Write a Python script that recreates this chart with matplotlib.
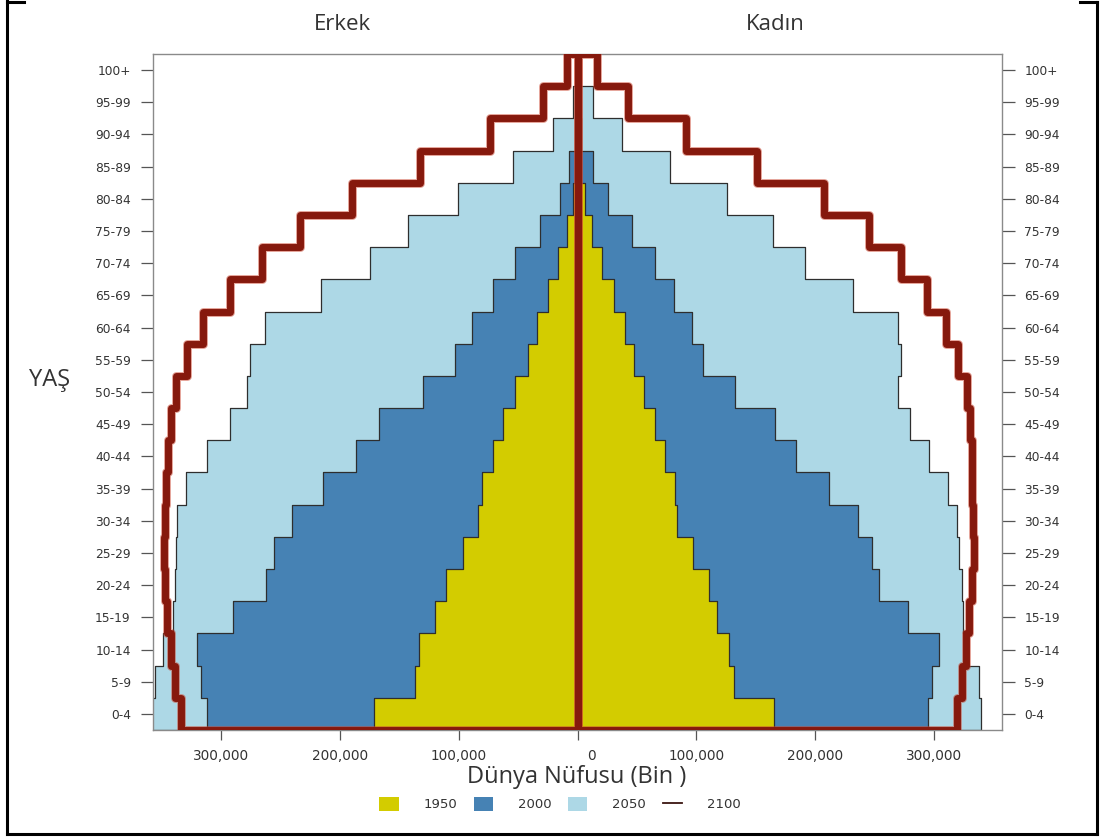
import numpy as np
import matplotlib
matplotlib.use("Agg")
import matplotlib.pyplot as plt
from matplotlib.patches import Patch
from matplotlib.lines import Line2D
from matplotlib.transforms import ScaledTranslation

# ---------------- data (thousands) ----------------
age_groups = ["0-4", "5-9", "10-14", "15-19", "20-24", "25-29", "30-34", "35-39",
              "40-44", "45-49", "50-54", "55-59", "60-64", "65-69", "70-74",
              "75-79", "80-84", "85-89", "90-94", "95-99", "100+"]

male_1950 = [171.4, 136.9, 133.3, 120.0, 110.8, 96.2, 83.5, 80.7, 71.5, 63.0, 53.0,
             41.4, 34.4, 24.6, 16.1, 8.6, 4.0, 2.0, 0.8, 0.2, 0.0]
male_2000 = [312.4, 317.5, 320.8, 289.9, 262.5, 255.7, 240.8, 214.1, 186.6, 167.0, 130.4,
             103.2, 89.2, 70.9, 52.7, 31.6, 14.7, 6.9, 2.5, 0.8, 0.2]
male_2050 = [362.0, 356.0, 348.9, 341.0, 339.0, 338.2, 337.1, 329.8, 311.8, 292.7, 278.1,
             275.9, 263.3, 216.4, 174.8, 142.5, 100.4, 54.6, 20.6, 4.0, 1.0]
male_2100 = [334.3, 339.0, 342.6, 345.6, 347.5, 348.3, 347.5, 346.7, 344.7, 342.6, 338.5,
             328.7, 315.2, 292.7, 266.1, 233.8, 190.2, 132.7, 73.7, 29.3, 8.5]

female_1950 = [165.8, 132.1, 127.6, 117.2, 110.8, 97.6, 83.5, 82.1, 73.7, 65.3, 56.3,
               47.9, 40.0, 31.0, 20.4, 12.0, 6.0, 3.0, 1.0, 0.3, 0.0]
female_2000 = [295.0, 298.9, 304.5, 278.7, 254.0, 248.4, 236.0, 211.9, 183.8, 166.4, 132.7,
               106.0, 96.7, 81.6, 65.3, 45.6, 26.0, 13.3, 3.0, 1.2, 0.3]
female_2050 = [339.9, 338.2, 327.0, 325.0, 323.6, 321.4, 319.4, 312.4, 296.1, 280.1, 269.7,
               272.5, 269.7, 232.4, 191.6, 164.4, 125.7, 77.9, 37.2, 13.3, 2.0]
female_2100 = [320.0, 323.6, 327.0, 329.8, 332.6, 333.7, 333.4, 332.6, 332.0, 330.6, 328.5,
               320.8, 310.4, 294.7, 272.2, 245.3, 208.0, 151.2, 91.4, 42.8, 16.5]

years = ["1950", "2000", "2050", "2100"]
x_ticks = [-300000, -200000, -100000, 0, 100000, 200000, 300000]
x_ticklabels = ["300,000", "200,000", "100,000", "0", "100,000", "200,000", "300,000"]

# ---------------- style ----------------
c1950 = "#d3cc00"
c2000 = "#4682b4"
c2050 = "#add8e6"
c2100 = "#86190d"
halo = "#c9452f"
edge = "#2e2e2e"
txt = "#333333"

W, H = 1103, 840
fig = plt.figure(figsize=(W / 100, H / 100), dpi=100)
fig.patch.set_facecolor("white")

def fx(px):
    return px / W

def fy(py):
    return 1 - py / H

ax = fig.add_axes([fx(153), fy(730), fx(1002) - fx(153), fy(54) - fy(730)])

n = len(age_groups)
edges = np.arange(n + 1) - 0.5
ys = np.column_stack([edges[:-1], edges[1:]]).ravel()

def step_x(vals, sign):
    return sign * np.repeat(np.asarray(vals, dtype=float) * 1000.0, 2)

for vals_m, vals_f, col in [(male_2050, female_2050, c2050),
                            (male_2000, female_2000, c2000),
                            (male_1950, female_1950, c1950)]:
    for vals, sign in [(vals_m, -1), (vals_f, 1)]:
        ax.fill_betweenx(ys, 0, step_x(vals, sign), facecolor=col,
                         edgecolor=edge, linewidth=0.9, zorder=2)

for vals, sign in [(male_2100, -1), (female_2100, 1)]:
    xs = np.concatenate([[0.0], step_x(vals, sign), [0.0, 0.0]])
    yy = np.concatenate([[edges[0]], ys, [edges[-1], edges[0]]])
    ax.plot(xs, yy, color=halo, lw=6.4, alpha=0.5, solid_joinstyle="round",
            solid_capstyle="round", zorder=3)
    ax.plot(xs, yy, color=c2100, lw=5.0, solid_joinstyle="round",
            solid_capstyle="round", zorder=4)

ax.set_xlim(-357600, 357600)
ax.set_ylim(edges[0], edges[-1])

ax.set_yticks(np.arange(n))
ax.set_yticklabels(age_groups)
ax.tick_params(axis="y", which="both", left=True, right=True, labelleft=True,
               labelright=True, length=9, width=0.9, color="#555555",
               labelsize=8.8, labelcolor=txt, pad=7)
for lbl in ax.get_yticklabels(which="both"):
    lbl.set_family("DejaVu Sans")

ax.set_xticks(x_ticks)
ax.set_xticklabels(x_ticklabels)
ax.tick_params(axis="x", length=7, width=0.9, color="#555555", labelsize=9.8,
               labelcolor=txt, pad=7)
# the "0" label is drawn slightly right of its tick in the original
for tick in ax.xaxis.get_major_ticks():
    if tick.label1.get_text() == "0":
        tick.label1.set_transform(tick.label1.get_transform() +
                                  ScaledTranslation(0.14, 0, fig.dpi_scale_trans))

for sp in ax.spines.values():
    sp.set_color("#8a8a8a")
    sp.set_linewidth(1.0)

# titles / labels
fig.text(fx(342), fy(25), "Erkek", ha="center", va="center", fontsize=16,
         color=txt, family="Open Sans")
fig.text(fx(775), fy(25), "Kadın", ha="center", va="center", fontsize=16,
         color=txt, family="Open Sans")
fig.text(fx(50), fy(380), "YAŞ", ha="center", va="center", fontsize=17,
         color=txt, family="Open Sans")
fig.text(fx(577), fy(777), "Dünya Nüfusu (Bin )", ha="center", va="center",
         fontsize=17, color=txt, family="Open Sans")

# legend
handles = [Patch(facecolor=c1950, edgecolor="none"),
           Patch(facecolor=c2000, edgecolor="none"),
           Patch(facecolor=c2050, edgecolor="none"),
           Line2D([], [], color="#3a1510", lw=1.3)]
fig.legend(handles, years, loc="center", bbox_to_anchor=(fx(560), fy(804)),
           ncol=4, frameon=False, fontsize=9.5, handlelength=1.45,
           handleheight=1.3, handletextpad=1.9, columnspacing=1.25,
           labelcolor=txt)

# outer black frame of the original screenshot
frame_lines = [((7, 7), (0, 834)), ((7, 1097), (834, 834)), ((1097, 1097), (2, 834)),
               ((7, 24), (1.5, 1.5)), ((1080, 1097), (2, 2))]
for xs_, ys_ in frame_lines:
    fig.add_artist(Line2D([fx(v) for v in xs_], [fy(v) for v in ys_],
                          transform=fig.transFigure, color="black", lw=2.2))

fig.savefig("out.png", dpi=100, facecolor="white")
